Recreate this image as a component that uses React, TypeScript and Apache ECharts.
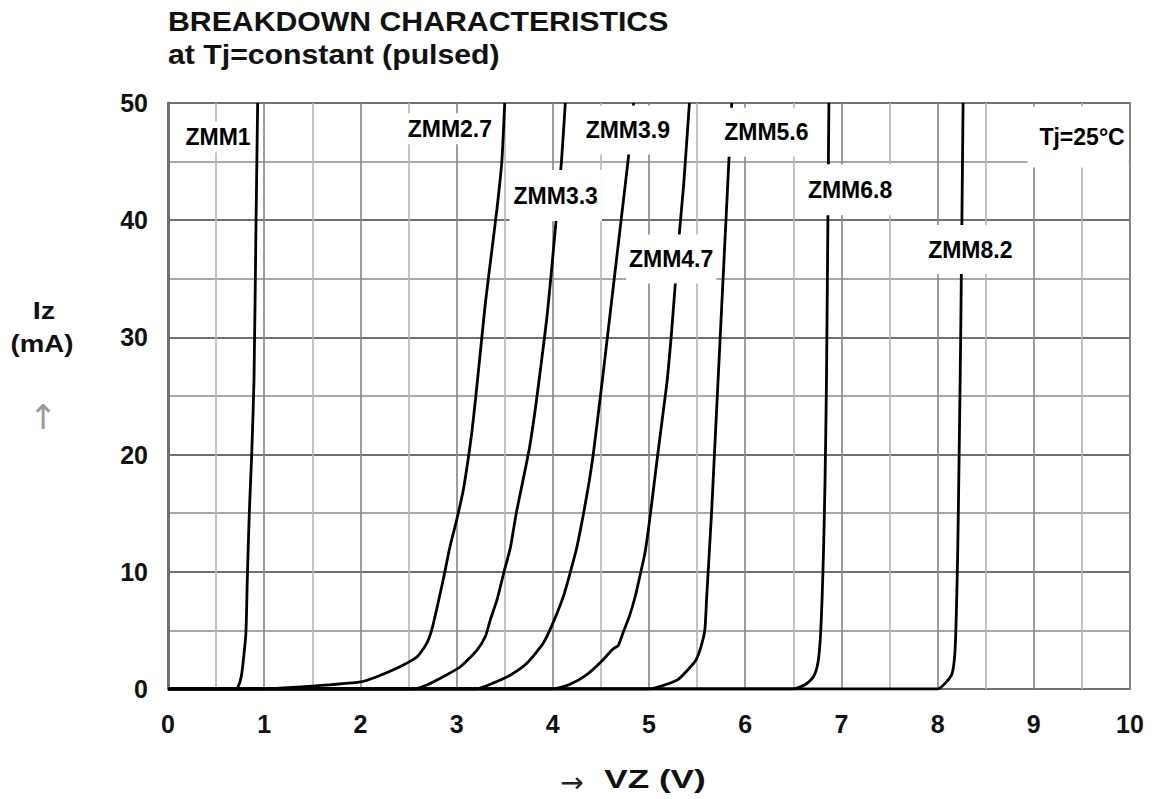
import React, { useEffect, useRef } from "react";
import * as echarts from "echarts";

const FONT = "'Liberation Sans', Arial, sans-serif";

// Curve names
const curveNames = ["ZMM1", "ZMM2.7", "ZMM3.3", "ZMM3.9", "ZMM4.7", "ZMM5.6", "ZMM6.8", "ZMM8.2"];

// [VZ (V), IZ (mA)] pairs
const zmm1 = [[0, 0], [0.70, 0], [0.73, 0.2], [0.76, 1.0], [0.78, 2.2], [0.81, 4.8], [0.824, 9.3], [0.845, 15], [0.87, 20], [0.894, 26.4], [0.915, 39.8], [0.932, 50]];
const zmm27 = [[0, 0], [0.9, 0], [1.5, 0.25], [2.0, 0.6], [2.17, 1.05], [2.41, 1.9], [2.59, 2.75], [2.69, 3.9], [2.74, 5.0], [2.79, 6.7], [2.86, 9.3], [2.93, 12.1], [3.0, 14.4], [3.07, 17], [3.12, 19.6], [3.16, 22], [3.20, 25], [3.25, 29], [3.30, 33], [3.36, 37], [3.42, 41], [3.47, 45], [3.50, 50]];
const zmm33 = [[0, 0], [2.55, 0], [2.69, 0.34], [2.86, 1.05], [3.04, 1.9], [3.21, 3.3], [3.30, 4.5], [3.35, 5.9], [3.42, 7.6], [3.49, 9.9], [3.56, 12.1], [3.62, 15], [3.69, 17.8], [3.76, 20.7], [3.82, 24], [3.88, 27.8], [3.94, 31.8], [3.99, 36], [4.04, 40.5], [4.09, 45], [4.13, 50]];
const zmm39 = [[0, 0], [3.2, 0], [3.38, 0.5], [3.56, 1.2], [3.73, 2.2], [3.90, 3.9], [4.0, 5.6], [4.11, 7.9], [4.18, 9.9], [4.25, 12.1], [4.32, 15], [4.38, 17.8], [4.42, 20], [4.47, 23.3], [4.52, 26.7], [4.57, 30.2], [4.63, 34.4], [4.69, 38.6], [4.75, 42.8], [4.80, 46.4], [4.84, 50]];
const zmm47 = [[0, 0], [4.0, 0], [4.18, 0.4], [4.35, 1.2], [4.50, 2.3], [4.60, 3.2], [4.64, 3.5], [4.68, 3.7], [4.73, 4.8], [4.80, 6.3], [4.86, 8.0], [4.91, 9.8], [4.96, 11.7], [5.00, 14], [5.05, 17.3], [5.10, 20.6], [5.15, 23.8], [5.19, 26.4], [5.23, 30], [5.27, 34.2], [5.31, 38.4], [5.36, 43], [5.42, 50]];
const zmm56 = [[0, 0], [5.0, 0], [5.16, 0.34], [5.30, 0.8], [5.40, 1.6], [5.49, 2.5], [5.54, 3.6], [5.58, 5.0], [5.60, 7.9], [5.62, 10.7], [5.65, 15], [5.68, 20], [5.71, 25], [5.74, 30], [5.77, 35], [5.80, 40], [5.83, 45], [5.86, 50]];
const zmm68 = [[0, 0], [6.5, 0], [6.63, 0.4], [6.71, 1.05], [6.755, 2.2], [6.78, 4.2], [6.80, 7.9], [6.815, 12.1], [6.83, 17.8], [6.845, 26.4], [6.87, 50]];
const zmm82 = [[0, 0], [8.0, 0], [8.08, 0.5], [8.15, 1.3], [8.18, 3.1], [8.195, 6.5], [8.21, 12.1], [8.225, 20.7], [8.24, 30], [8.265, 50]];
const curves = [zmm1, zmm27, zmm33, zmm39, zmm47, zmm56, zmm68, zmm82];

// Curve labels (text, position in data units)
const labelTexts = ["ZMM1", "ZMM2.7", "ZMM3.3", "ZMM3.9", "ZMM4.7", "ZMM5.6", "ZMM6.8", "ZMM8.2", "Tj=25°C"];
const labelV = [0.52, 2.93, 4.03, 4.78, 5.23, 6.22, 7.09, 8.34, 9.46];
const labelI = [47.1, 47.8, 42.1, 47.7, 36.7, 47.5, 42.6, 37.5, 47.1];
const labelPad = [[4, 3], [4, 3], [14, 4], [13, 4], [13, 3], [13, 4], [14, 12], [13, 6], [21, 4, 17, 12]];

export default function App() {
  const ref = useRef<HTMLDivElement>(null);
  useEffect(() => {
    document.body.style.margin = "0";
    const chart = echarts.init(ref.current!, null, { renderer: "svg" });
    const lineSeries = curves.map((d, i) => ({
      type: "line",
      name: curveNames[i],
      data: d,
      showSymbol: false,
      symbol: "none",
      smooth: 0.2,
      silent: true,
      z: 3,
      lineStyle: { color: "#000000", width: 2.8 },
    }));
    const centered = { align: "center", verticalAlign: "middle", textAlign: "center", textVerticalAlign: "middle" };
    const option: any = {
      animation: false,
      backgroundColor: "#ffffff",
      textStyle: { fontFamily: FONT },
      grid: {
        left: 168, top: 103, width: 962, height: 586,
        show: true, borderColor: "#8a8a8a", borderWidth: 2,
        outerBoundsMode: "none",
      },
      xAxis: {
        type: "value", min: 0, max: 10, interval: 1,
        axisLine: { show: false },
        axisTick: { show: false },
        axisLabel: { fontSize: 25, fontWeight: "bold", color: "#111", margin: 22, fontFamily: FONT },
        splitLine: { show: true, lineStyle: { color: "#858585", width: 1.6 } },
        minorTick: { show: false, splitNumber: 2 },
        minorSplitLine: { show: true, lineStyle: { color: "#b4b4b4", width: 1.6 } },
      },
      yAxis: {
        type: "value", min: 0, max: 50, interval: 10,
        axisLine: { show: true, lineStyle: { color: "#707070", width: 3 } },
        axisTick: { show: false },
        axisLabel: { fontSize: 25, fontWeight: "bold", color: "#111", margin: 20, fontFamily: FONT },
        splitLine: { show: true, lineStyle: { color: "#707070", width: 2 } },
        minorTick: { show: false, splitNumber: 2 },
        minorSplitLine: { show: true, lineStyle: { color: "#a8a8a8", width: 2 } },
      },
      series: [
        ...lineSeries,
        {
          type: "scatter",
          name: "labels",
          z: 10,
          silent: true,
          symbolSize: 1,
          itemStyle: { color: "#ffffff", opacity: 1 },
          label: {
            show: true, position: "inside", formatter: "{b}",
            backgroundColor: "#ffffff", color: "#000000", opacity: 1,
            textBorderWidth: 0, textBorderColor: "transparent",
            fontSize: 23, fontWeight: "bold", fontFamily: FONT,
          },
          data: labelTexts.map((t, i) => ({
            name: t,
            value: [labelV[i], labelI[i]],
            label: { padding: labelPad[i] },
          })),
        },
      ],
      graphic: [
        {
          type: "text", x: 168, y: 5, scaleX: 1.08,
          style: {
            text: "BREAKDOWN CHARACTERISTICS\nat Tj=constant (pulsed)",
            font: `bold 28px ${FONT}`, lineHeight: 33, fill: "#111",
          },
        },
        {
          type: "text", x: 44, y: 311, scaleX: 1.25,
          style: { text: "Iz", font: `bold 23px ${FONT}`, fill: "#111", ...centered },
        },
        {
          type: "text", x: 42, y: 344, scaleX: 1.2,
          style: { text: "(mA)", font: `bold 23px ${FONT}`, fill: "#111", ...centered },
        },
        {
          type: "text", x: 43, y: 417,
          style: { text: "↑", font: `34px 'DejaVu Sans', sans-serif`, fill: "#9a9a9a", ...centered },
        },
        {
          type: "text", x: 572, y: 782,
          style: { text: "→", font: `28px 'DejaVu Sans', sans-serif`, fill: "#222", ...centered },
        },
        {
          type: "text", x: 655, y: 779, scaleX: 1.35,
          style: { text: "VZ (V)", font: `bold 26px ${FONT}`, fill: "#111", ...centered },
        },
      ],
    };
    chart.setOption(option);
    return () => chart.dispose();
  }, []);
  return <div ref={ref} style={{ width: 1152, height: 799 }} />;
}
